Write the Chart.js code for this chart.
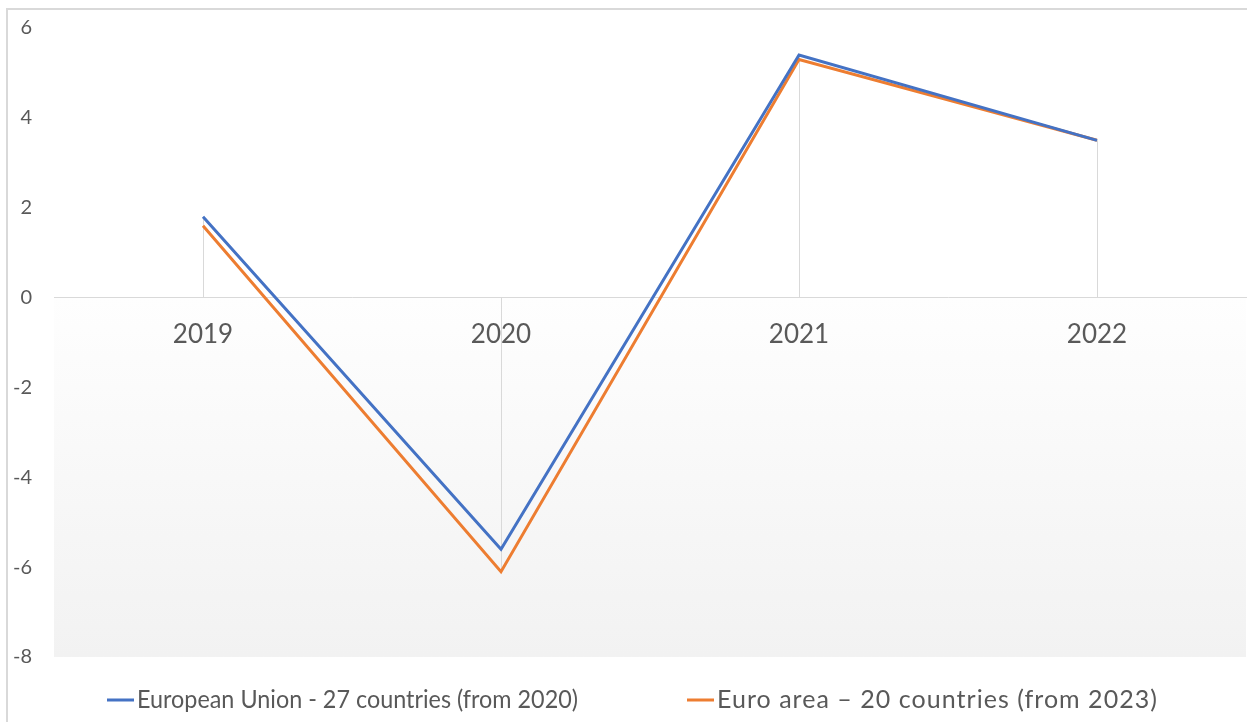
<!DOCTYPE html>
<html>
<head>
<meta charset="utf-8">
<script src="https://cdn.jsdelivr.net/npm/chart.js@4/dist/chart.umd.min.js"></script>
<style>
  html, body { margin: 0; padding: 0; background: #fff; }
  #wrap { width: 1247px; height: 722px; position: relative; }
</style>
</head>
<body>
<div id="wrap"><canvas id="gdpChart" width="1247" height="722"></canvas></div>
<script>
// Data
const years = ['2019', '2020', '2021', '2022'];
const euValues = [1.8, -5.6, 5.4, 3.5];
const euroAreaValues = [1.6, -6.1, 5.3, 3.5];
const seriesNames = ['European Union - 27 countries (from 2020)', 'Euro area \u2013 20 countries (from 2023)'];
const seriesColors = ['#4472C4', '#ED7D31'];
const yMin = -8, yMax = 6, yStep = 2;

const FONT = 'Lato, "Open Sans", sans-serif';

// Frame, shaded area below zero, and drop lines
const backdrop = {
    id: 'backdrop',
    beforeDraw(chart) {
        const ctx = chart.ctx;
        const area = chart.chartArea;
        const y = chart.scales.y;
        const zero = y.getPixelForValue(0);
        ctx.save();
        // frame
        ctx.fillStyle = '#d9d9d9';
        ctx.fillRect(6, 8, chart.width - 6, 2);
        ctx.fillRect(6, 8, 2, chart.height - 8);
        // gradient below zero
        const grad = ctx.createLinearGradient(0, zero, 0, area.bottom);
        grad.addColorStop(0, '#fefefe');
        grad.addColorStop(1, '#f2f2f2');
        ctx.fillStyle = grad;
        ctx.fillRect(area.left, zero, area.right - area.left, area.bottom - zero);
        ctx.restore();
    },
    beforeDatasetsDraw(chart) {
        const ctx = chart.ctx;
        const x = chart.scales.x;
        const y = chart.scales.y;
        const zero = y.getPixelForValue(0);
        ctx.save();
        ctx.strokeStyle = '#d9d9d9';
        ctx.lineWidth = 1;
        years.forEach((yr, i) => {
            const px = Math.round(x.getPixelForValue(i)) + 0.5;
            chart.data.datasets.forEach(ds => {
                ctx.beginPath();
                ctx.moveTo(px, zero);
                ctx.lineTo(px, y.getPixelForValue(ds.data[i]));
                ctx.stroke();
            });
        });
        ctx.restore();
    }
};

// Legend drawn like the Excel one (short line, small gap, text)
const lineLegend = {
    id: 'lineLegend',
    afterDraw(chart) {
        const ctx = chart.ctx;
        const starts = [107, 687];
        const textWidth = 441;
        const cy = 700;
        ctx.save();
        ctx.font = '25px ' + FONT;
        ctx.textBaseline = 'middle';
        chart.data.datasets.forEach((ds, i) => {
            ctx.fillStyle = ds.borderColor;
            ctx.fillRect(starts[i], cy - 1.5, 27, 3);
            ctx.fillStyle = '#595959';
            const w = ctx.measureText(ds.label).width;
            if (w < textWidth && 'letterSpacing' in ctx) {
                ctx.letterSpacing = ((textWidth - w) / ds.label.length).toFixed(2) + 'px';
                ctx.fillText(ds.label, starts[i] + 30, cy);
                ctx.letterSpacing = '0px';
            } else {
                ctx.fillText(ds.label, starts[i] + 30, cy, textWidth);
            }
        });
        ctx.restore();
    }
};

const chart = new Chart(document.getElementById('gdpChart'), {
    type: 'line',
    data: {
        labels: years,
        datasets: [
            {
                label: seriesNames[0],
                data: euValues,
                borderColor: seriesColors[0],
                backgroundColor: seriesColors[0],
                borderWidth: 3,
                pointRadius: 0,
                tension: 0
            },
            {
                label: seriesNames[1],
                data: euroAreaValues,
                borderColor: seriesColors[1],
                backgroundColor: seriesColors[1],
                borderWidth: 3,
                pointRadius: 0,
                tension: 0
            }
        ]
    },
    options: {
        responsive: false,
        animation: false,
        layout: { padding: { top: 28, bottom: 65, left: 0, right: 1 } },
        plugins: {
            legend: { display: false },
            tooltip: { enabled: false }
        },
        scales: {
            x: {
                position: { y: 0 },
                offset: true,
                grid: { display: false, drawTicks: false },
                border: { display: true, color: '#d9d9d9', width: 1 },
                ticks: {
                    padding: 21,
                    color: '#595959',
                    font: { family: FONT, size: 26 }
                }
            },
            y: {
                min: yMin,
                max: yMax,
                grid: { display: false, drawTicks: false },
                border: { display: false },
                afterFit(scale) {
                    scale.width = 54;
                    scale.paddingTop = 0;
                    scale.paddingBottom = 0;
                },
                ticks: {
                    stepSize: yStep,
                    padding: 22,
                    color: '#595959',
                    font: { family: FONT, size: 20 }
                }
            }
        }
    },
    plugins: [backdrop, lineLegend]
});
</script>
</body>
</html>
